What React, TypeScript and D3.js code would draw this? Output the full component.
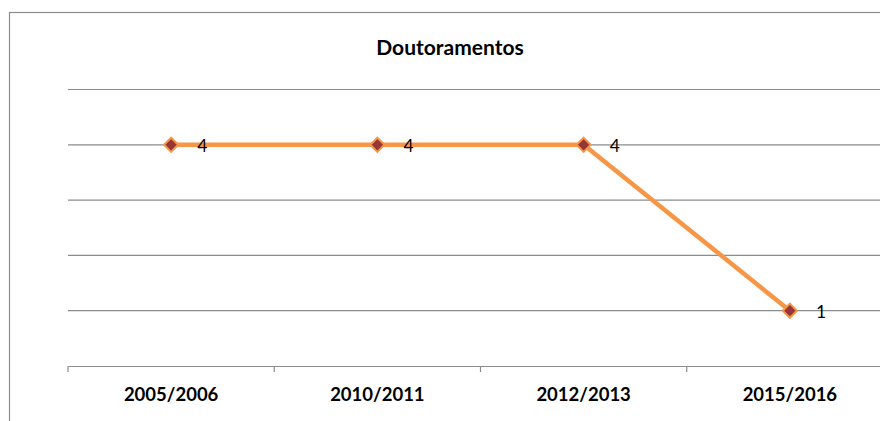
import React, { useEffect, useRef } from 'react';
import * as d3 from 'd3';

const categories = ['2005/2006', '2010/2011', '2012/2013', '2015/2016'];
const values = [4, 4, 4, 1];
const yTicks = [0, 1, 2, 3, 4, 5];
const title = 'Doutoramentos';

const App = () => {
  const ref = useRef<SVGSVGElement | null>(null);

  useEffect(() => {
    const width = 880;
    const margin = { top: 89.5, left: 68, bottom: 366 };
    const plotRight = 893;

    const svg = d3.select(ref.current);
    svg.selectAll('*').remove();

    const font = 'Lato, "Open Sans", sans-serif';

    // chart border
    svg
      .append('rect')
      .attr('x', 9.5)
      .attr('y', 12.5)
      .attr('width', 960)
      .attr('height', 500)
      .attr('fill', 'white')
      .attr('stroke', '#8c8c8c')
      .attr('stroke-width', 1.2);

    svg
      .append('text')
      .attr('x', 450)
      .attr('y', 55)
      .attr('text-anchor', 'middle')
      .attr('font-family', font)
      .attr('font-weight', 'bold')
      .attr('font-size', 21)
      .attr('fill', '#000')
      .text(title);

    const xScale = d3
      .scaleBand()
      .domain(categories)
      .range([margin.left, plotRight])
      .padding(0);

    const yScale = d3
      .scaleLinear()
      .domain([0, 5])
      .range([margin.bottom, margin.top]);

    // gridlines
    svg
      .append('g')
      .selectAll('line')
      .data(yTicks.filter((d) => d > 0))
      .join('line')
      .attr('x1', margin.left)
      .attr('x2', width)
      .attr('y1', (d) => yScale(d))
      .attr('y2', (d) => yScale(d))
      .attr('stroke', '#8c8c8c')
      .attr('stroke-width', 1.2);

    // x axis
    const xAxis = d3
      .axisBottom(xScale)
      .tickSize(6)
      .tickSizeOuter(0);
    const gx = svg
      .append('g')
      .attr('transform', `translate(0,${yScale(0)})`)
      .call(xAxis);
    gx.select('.domain').attr('stroke', '#8c8c8c').attr('stroke-width', 1.2);
    gx.selectAll('.tick line').remove();
    gx.selectAll('.tick text')
      .attr('y', 34.5)
      .attr('dy', 0)
      .attr('font-family', font)
      .attr('font-weight', 'bold')
      .attr('font-size', 18.5)
      .attr('fill', '#000');

    // boundary ticks between categories
    const bounds = categories.map((c) => xScale(c) as number);
    svg
      .append('g')
      .selectAll('line')
      .data(bounds)
      .join('line')
      .attr('x1', (d) => d)
      .attr('x2', (d) => d)
      .attr('y1', yScale(0))
      .attr('y2', yScale(0) + 6)
      .attr('stroke', '#8c8c8c')
      .attr('stroke-width', 1.2);

    const cx = (c: string) => (xScale(c) as number) + xScale.bandwidth() / 2;
    const points = categories.map((c, i) => ({ c, v: values[i] }));

    const line = d3
      .line<{ c: string; v: number }>()
      .x((d) => cx(d.c))
      .y((d) => yScale(d.v));

    svg
      .append('path')
      .datum(points)
      .attr('fill', 'none')
      .attr('stroke', '#f79646')
      .attr('stroke-width', 4.5)
      .attr('stroke-linejoin', 'round')
      .attr('d', line);

    const diamond = d3.symbol().type(d3.symbolDiamond2).size(128);
    svg
      .append('g')
      .selectAll('path')
      .data(points)
      .join('path')
      .attr('transform', (d) => `translate(${cx(d.c)},${yScale(d.v)})`)
      .attr('d', diamond)
      .attr('fill', '#953735')
      .attr('stroke', '#f79646')
      .attr('stroke-width', 2);

    svg
      .append('g')
      .selectAll('text')
      .data(points)
      .join('text')
      .attr('x', (d) => cx(d.c) + 26)
      .attr('y', (d) => yScale(d.v) + 7.5)
      .attr('font-family', font)
      .attr('font-size', 17.5)
      .attr('fill', '#000')
      .text((d) => d.v);
  }, []);

  return (
    <svg
      ref={ref}
      width={880}
      height={421}
      style={{ position: 'absolute', left: 0, top: 0, display: 'block' }}
    />
  );
};

export default App;
